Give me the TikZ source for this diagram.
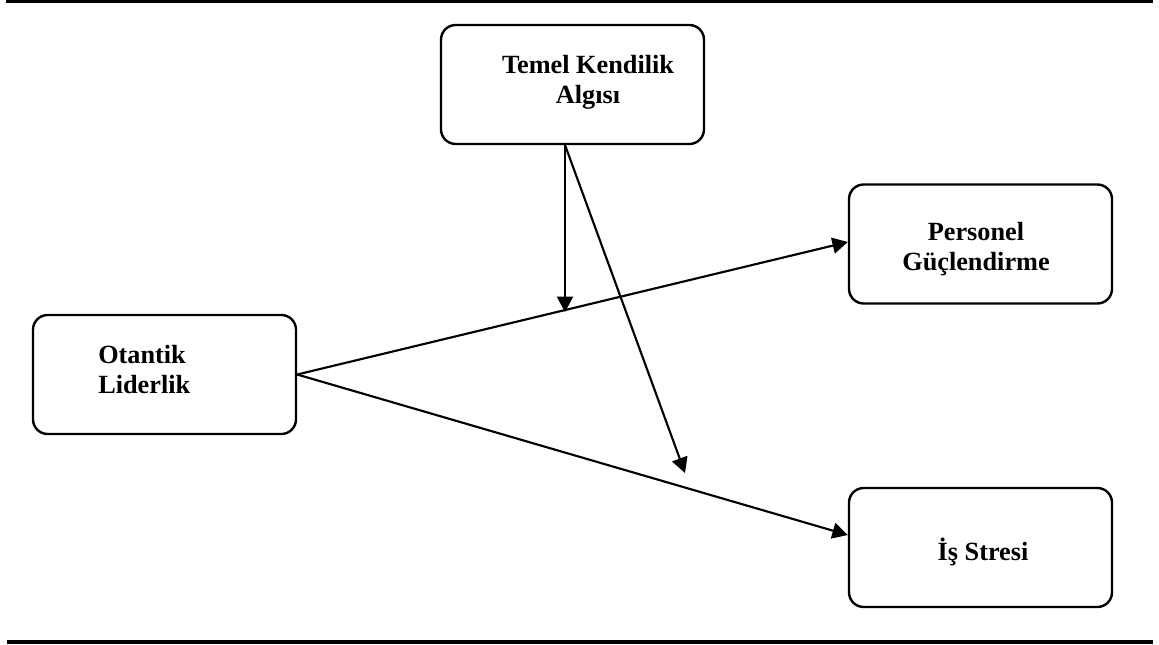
\documentclass[tikz,border=0pt]{standalone}
\usepackage{fontspec}
\setmainfont{Liberation Serif}
\usetikzlibrary{arrows.meta,calc}
\begin{document}
\begin{tikzpicture}[x=0.75pt,y=-0.75pt,
  box/.style={draw=black,line width=1.8pt,rounded corners=11pt,minimum width=263*0.75pt,minimum height=119*0.75pt,inner sep=0pt},
  lbl/.style={font=\fontsize{19.7pt}{22.5pt}\selectfont\bfseries,inner sep=0pt,align=center},
  conn/.style={line width=1.6pt,-{Triangle[length=11.5pt,width=12pt]}},
  rule/.style={line width=3pt}]
\useasboundingbox (0,0) rectangle (1159,645);
% rules
\coordinate (rtl) at (6,1.5);
\coordinate (rtr) at (1153,1.5);
\coordinate (rbl) at (7,642);
\coordinate (rbr) at (1153,642);
\draw[rule] (rtl) -- (rtr);
\draw[rule] (rbl) -- (rbr);
% boxes
\node[box] (temel) at (572.5,84.5) {};
\node[box] (pers) at (980.5,244) {};
\node[box] (otan) at (164.5,374.5) {};
\node[box] (stres) at (980.5,547.5) {};
% texts
\node[lbl,anchor=north] (temelt) at (588,55.5) {Temel Kendilik\\Algısı};
\node[lbl,anchor=north] (perst) at (976,222.5) {Personel\\Güçlendirme};
\node[lbl,anchor=north west,align=left] (otant) at (98,345.5) {Otantik\\Liderlik};
\node[lbl,anchor=base] (strest) at (983,560) {İş Stresi};
% connectors
\coordinate (ts) at (565,145);
\coordinate (mid) at (565,312);
\coordinate (diag) at (685,473);
\draw[conn] (otan.east) -- ($(pers.west)+(0,-2)$);
\draw[conn] (otan.east) -- ($(stres.west)+(0,-12.5)$);
\draw[conn] (ts) -- (mid);
\draw[conn] (ts) -- (diag);
\end{tikzpicture}
\end{document}
